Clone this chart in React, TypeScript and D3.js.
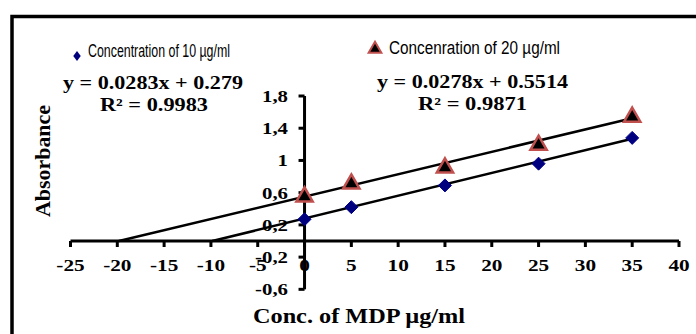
import React from "react";
import * as d3 from "d3";

const concentrations = [0, 5, 15, 25, 35];
const series10 = [0.27, 0.42, 0.69, 0.96, 1.28];
const series20 = [0.55, 0.71, 0.91, 1.19, 1.54];
const slopes = [0.0283, 0.0278];
const intercepts = [0.279, 0.5514];
const xTicks = [-25, -20, -15, -10, -5, 0, 5, 10, 15, 20, 25, 30, 35, 40];
const yTicks = [-0.6, -0.2, 0.2, 0.6, 1, 1.4, 1.8];
const legendLabels = ["Concentration of 10 \u00b5g/ml", "Concenration of 20 \u00b5g/ml"];
const equations = ["y = 0.0283x + 0.279", "y = 0.0278x + 0.5514"];
const r2Labels = ["R\u00b2 = 0.9983", "R\u00b2 = 0.9871"];

const W = 696;
const H = 334;
const serif = "'Liberation Serif', 'Times New Roman', serif";
const narrow = "'Liberation Sans Narrow', 'Arial Narrow', 'Liberation Sans', sans-serif";

function diamondPath(r: number) {
  return `M0,${-r}L${r},0L0,${r}L${-r},0Z`;
}

function T(props: any) {
  const { x, y, size, sx = 1, anchor = "start", children, family = serif, weight = "bold", rotate = 0, fill = "#000" } = props;
  return (
    <text
      transform={`translate(${x},${y}) rotate(${rotate}) scale(${sx},1)`}
      fontSize={size}
      fontFamily={family}
      fontWeight={weight}
      textAnchor={anchor}
      fill={fill}
    >
      {children}
    </text>
  );
}

export default function App() {
  const x = d3.scaleLinear().domain([-25, 40]).range([70.5, 679]);
  const y = d3.scaleLinear().domain([0, 1.8]).range([241, 96]);
  const tri = d3.symbol().type(d3.symbolTriangle).size(115)();
  const triLegend = d3.symbol().type(d3.symbolTriangle).size(70)();
  const lineGen = d3.line<[number, number]>().x((d) => x(d[0])).y((d) => y(d[1]));
  const trend = (i: number) => {
    const x0 = -intercepts[i] / slopes[i];
    const x1 = concentrations[concentrations.length - 1];
    return lineGen([
      [x0, 0],
      [x1, slopes[i] * x1 + intercepts[i]],
    ]);
  };

  return (
    <svg width={W} height={H} style={{ position: "absolute", left: 0, top: 0, background: "#fff" }}>
      <rect x={12} y={16.5} width={720} height={400} fill="#fff" stroke="#000" strokeWidth={3.5} />

      {/* axes */}
      <line x1={x(-25)} x2={x(40)} y1={y(0)} y2={y(0)} stroke="#000" strokeWidth={3} />
      {xTicks.map((t) => (
        <line key={"xt" + t} x1={x(t)} x2={x(t)} y1={y(0)} y2={y(0) + 6} stroke="#000" strokeWidth={3} />
      ))}
      <line x1={x(0)} x2={x(0)} y1={y(-0.6)} y2={y(1.8)} stroke="#000" strokeWidth={3} />
      {yTicks.map((t) => (
        <line key={"yt" + t} x1={x(0) - 6} x2={x(0)} y1={y(t)} y2={y(t)} stroke="#000" strokeWidth={3} />
      ))}

      {/* trendlines */}
      <path d={trend(0) || ""} stroke="#000" strokeWidth={2.5} fill="none" />
      <path d={trend(1) || ""} stroke="#000" strokeWidth={2.5} fill="none" />

      {/* markers */}
      {concentrations.map((c, i) => (
        <path key={"d" + c} d={diamondPath(6.5)} transform={`translate(${x(c)},${y(series10[i])})`} fill="#00007f" stroke="#00008b" strokeWidth={1} />
      ))}
      {concentrations.map((c, i) => (
        <path key={"t" + c} d={tri || ""} transform={`translate(${x(c)},${y(series20[i])})`} fill="#000" stroke="#c0504d" strokeWidth={2.5} />
      ))}

      {/* tick labels */}
      {xTicks.map((t) => (
        <T key={"xl" + t} x={x(t)} y={271} size={17} sx={1.25} anchor="middle">
          {String(t)}
        </T>
      ))}
      {yTicks.map((t) => (
        <T key={"yl" + t} x={288} y={y(t) + 6} size={16} sx={1.3} anchor="end">
          {String(t).replace(".", ",")}
        </T>
      ))}

      {/* axis titles */}
      <text transform="translate(50,161) rotate(-90)" fontSize={20} fontFamily={serif} fontWeight="bold" textAnchor="middle" textLength={112} lengthAdjust="spacingAndGlyphs">
        Absorbance
      </text>
      <text x={253} y={323} fontSize={20} fontFamily={serif} fontWeight="bold" textLength={212} lengthAdjust="spacingAndGlyphs">
        Conc. of MDP µg/ml
      </text>

      {/* legend */}
      <path d={diamondPath(5)} transform="translate(77,56) scale(0.75,1)" fill="#00007f" />
      <text x={88} y={56.5} fontSize={17.5} fontFamily={narrow} fontWeight={500} textLength={142} lengthAdjust="spacingAndGlyphs">
        {legendLabels[0]}
      </text>
      <path d={triLegend || ""} transform="translate(375,49)" fill="#000" stroke="#c0504d" strokeWidth={2} />
      <text x={389} y={54} fontSize={18} fontFamily={narrow} fontWeight={500} textLength={171} lengthAdjust="spacingAndGlyphs">
        {legendLabels[1]}
      </text>

      {/* equations */}
      <text x={63} y={89} fontSize={18} fontFamily={serif} fontWeight="bold" textLength={180} lengthAdjust="spacingAndGlyphs">
        {equations[0]}
      </text>
      <text x={100} y={111} fontSize={18} fontFamily={serif} fontWeight="bold" textLength={108} lengthAdjust="spacingAndGlyphs">
        {r2Labels[0]}
      </text>
      <text x={377} y={88} fontSize={18} fontFamily={serif} fontWeight="bold" textLength={191} lengthAdjust="spacingAndGlyphs">
        {equations[1]}
      </text>
      <text x={418} y={110} fontSize={18} fontFamily={serif} fontWeight="bold" textLength={109} lengthAdjust="spacingAndGlyphs">
        {r2Labels[1]}
      </text>
    </svg>
  );
}
